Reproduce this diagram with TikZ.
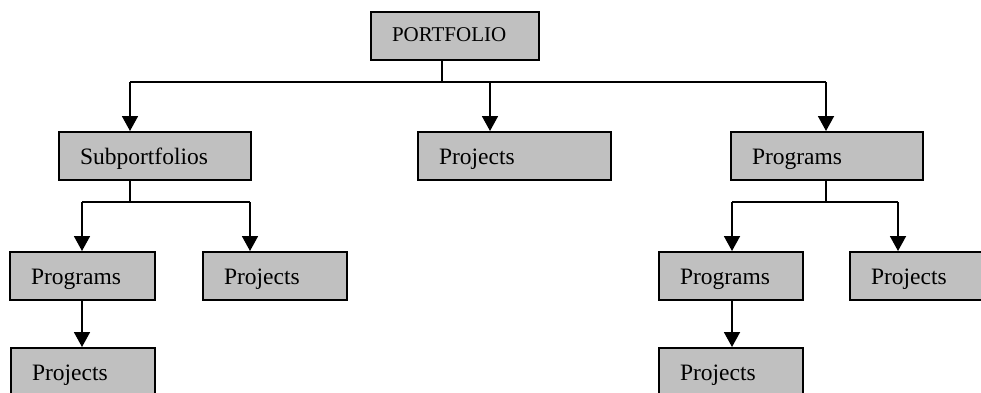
\documentclass[tikz,border=0pt]{standalone}
\usepackage{fontspec}
\setmainfont{Liberation Serif}
\usetikzlibrary{arrows.meta}
\begin{document}
\begin{tikzpicture}[x=1pt,y=-1pt,
  box/.style={draw=black,line width=2pt,fill=boxgray,rectangle,anchor=north west,
    minimum height=48pt,inner xsep=21pt,inner ysep=0pt,align=left,
    font=\fontsize{23.5}{24}\selectfont,text height=20pt,text depth=4pt},
  topbox/.style={box,font=\fontsize{21}{22}\selectfont,text height=17pt,text depth=7pt},
  conn/.style={line width=1.8pt},
  arr/.style={conn,-{Triangle[width=16pt,length=15pt]}}]
\definecolor{boxgray}{HTML}{C0C0C0}
\useasboundingbox (0,0) rectangle (981,392);
\clip (0,0) rectangle (981,392);
% boxes
\node[topbox,minimum width=168pt,text width=126pt] (P) at (370,11) {PORTFOLIO};
\node[box,minimum width=192pt,text width=150pt] (SP) at (58,131) {Subportfolios};
\node[box,minimum width=193pt,text width=151pt] (MPJ) at (417,131) {Projects};
\node[box,minimum width=192pt,text width=150pt] (RPG) at (730,131) {Programs};
\node[box,minimum width=145pt,text width=103pt] (LPG) at (9,251) {Programs};
\node[box,minimum width=144pt,text width=102pt] (LPJ) at (202,251) {Projects};
\node[box,minimum width=144pt,text width=102pt] (LBPJ) at (10,347) {Projects};
\node[box,minimum width=144pt,text width=102pt] (RPG2) at (658,251) {Programs};
\node[box,minimum width=144pt,text width=102pt] (RPJ) at (849,251) {Projects};
\node[box,minimum width=144pt,text width=102pt] (RBPJ) at (658,347) {Projects};
% junction coordinates
\coordinate (j0) at (442,82);
\coordinate (a1) at (130,82);
\coordinate (a2) at (490,82);
\coordinate (a3) at (826,82);
\coordinate (j1) at (130,202);
\coordinate (b1) at (82,202);
\coordinate (b2) at (250,202);
\coordinate (j2) at (826,202);
\coordinate (c1) at (732,202);
\coordinate (c2) at (898,202);
% connectors
\draw[conn] (P.south -| j0) -- (j0);
\draw[conn] (a1) -- (a3);
\draw[arr] (a1) -- (SP.north -| a1);
\draw[arr] (a2) -- (MPJ.north -| a2);
\draw[arr] (a3) -- (RPG.north -| a3);
\draw[conn] (SP.south -| j1) -- (j1);
\draw[conn] (b1) -- (b2);
\draw[arr] (b1) -- (LPG.north -| b1);
\draw[arr] (b2) -- (LPJ.north -| b2);
\draw[conn] (RPG.south -| j2) -- (j2);
\draw[conn] (c1) -- (c2);
\draw[arr] (c1) -- (RPG2.north -| c1);
\draw[arr] (c2) -- (RPJ.north -| c2);
\draw[arr] (LPG.south -| b1) -- (LBPJ.north -| b1);
\draw[arr] (RPG2.south -| c1) -- (RBPJ.north -| c1);
\end{tikzpicture}
\end{document}
